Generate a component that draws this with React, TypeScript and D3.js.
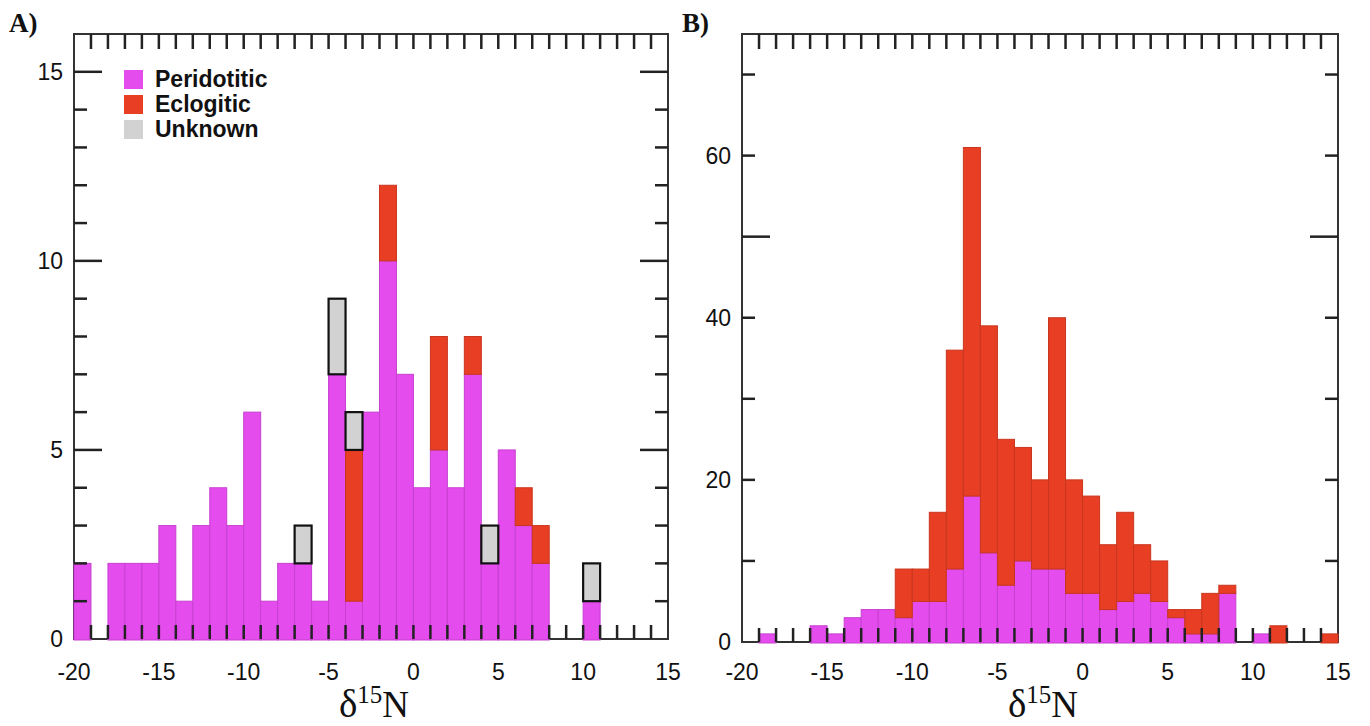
import * as d3 from 'd3'

// bin left edges, 1 permil wide
const bins = d3.range(-20, 15)

// A) counts per bin, -20 .. 14
const peridotiticA = [2, 0, 2, 2, 2, 3, 1, 3, 4, 3, 6, 1, 2, 2, 1, 7, 1, 6, 10, 7, 4, 5, 4, 7, 2, 5, 3, 2, 0, 0, 1, 0, 0, 0, 0]
const eclogiticA = [0, 0, 0, 0, 0, 0, 0, 0, 0, 0, 0, 0, 0, 0, 0, 0, 4, 0, 2, 0, 0, 3, 0, 1, 0, 0, 1, 1, 0, 0, 0, 0, 0, 0, 0]
const unknownA = [0, 0, 0, 0, 0, 0, 0, 0, 0, 0, 0, 0, 0, 1, 0, 2, 1, 0, 0, 0, 0, 0, 0, 0, 1, 0, 0, 0, 0, 0, 1, 0, 0, 0, 0]

// B) counts per bin, -20 .. 14
const peridotiticB = [0, 1, 0, 0, 2, 1, 3, 4, 4, 3, 5, 5, 9, 18, 11, 7, 10, 9, 9, 6, 6, 4, 5, 6, 5, 3, 1, 1, 6, 0, 1, 0, 0, 0, 0]
const eclogiticB = [0, 0, 0, 0, 0, 0, 0, 0, 0, 6, 4, 11, 27, 43, 28, 18, 14, 11, 31, 14, 12, 8, 11, 6, 5, 1, 3, 5, 1, 0, 0, 2, 0, 0, 1]

const xTickLabels = [-20, -15, -10, -5, 0, 5, 10, 15]
const yLabelsA = [0, 5, 10, 15]
const yLabelsB = [0, 20, 40, 60]

const legendItems = ['Peridotitic', 'Eclogitic', 'Unknown']

const MAGENTA = '#e44cee'
const RED = '#e83e24'
const GRAY = '#d2d2d2'
const INK = '#333'
const SANS = '"Liberation Sans", Arial, sans-serif'
const SERIF = '"Liberation Serif", "Times New Roman", serif'

type Layer = {
  key: string
  values: number[]
  fill: string
  stroke: string
  strokeWidth: number
}

type PanelProps = {
  left: number
  right: number
  top: number
  bottom: number
  yMax: number
  layers: Layer[]
  yLabels: number[]
  yStep: number
  longTicks: number[]
  tag: string
  tagX: number
  legend?: boolean
}

const Panel = ({ left, right, top, bottom, yMax, layers, yLabels, yStep, longTicks, tag, tagX, legend }: PanelProps) => {
  const x = d3.scaleLinear().domain([-20, 15]).range([left, right])
  const y = d3.scaleLinear().domain([0, yMax]).range([bottom, top])

  const rows = bins.map((b, i) => {
    const r: Record<string, number> = { bin: b }
    layers.forEach((l) => (r[l.key] = l.values[i]))
    return r
  })
  const stacked = d3.stack<Record<string, number>>().keys(layers.map((l) => l.key))(rows)

  const xMinor = d3.range(-19, 15)
  const yMinor = d3.range(yStep, yMax, yStep)
  const shortLen = 13
  const longLen = 28

  return (
    <g>
      <text x={tagX} y={32} fontFamily={SERIF} fontWeight="bold" fontSize={27} fill="#111">
        {tag}
      </text>
      <rect x={left} y={top} width={right - left} height={bottom - top} fill="white" stroke={INK} strokeWidth={2} />

      {stacked.map((s, li) => {
        const l = layers[li]
        return (
          <g key={l.key}>
            {s.map((d, i) =>
              d[1] > d[0] ? (
                <rect
                  key={i}
                  x={x(bins[i])}
                  y={y(d[1])}
                  width={x(bins[i] + 1) - x(bins[i])}
                  height={y(d[0]) - y(d[1]) + (d[0] === 0 ? 1 : 0)}
                  fill={l.fill}
                  stroke={l.stroke}
                  strokeWidth={l.strokeWidth}
                />
              ) : null,
            )}
          </g>
        )
      })}

      {/* ticks drawn over the bars */}
      <g stroke="#222" strokeWidth={2.5}>
        {xMinor.map((v) => (
          <line key={'t' + v} x1={x(v)} x2={x(v)} y1={top} y2={top + 15} />
        ))}
        {xMinor.map((v) => (
          <line key={'b' + v} x1={x(v)} x2={x(v)} y1={bottom} y2={bottom - 14} />
        ))}
        {yMinor.map((v) => {
          const len = longTicks.includes(v) ? longLen : shortLen
          return (
            <g key={'y' + v}>
              <line x1={left} x2={left + len} y1={y(v)} y2={y(v)} />
              <line x1={right} x2={right - len} y1={y(v)} y2={y(v)} />
            </g>
          )
        })}
      </g>

      {yLabels.map((v) => (
        <text
          key={'yl' + v}
          x={left - 11}
          y={y(v)}
          textAnchor="end"
          dominantBaseline="central"
          fontFamily={SANS}
          fontSize={23}
          fill="#111"
        >
          {v}
        </text>
      ))}
      {xTickLabels.map((v) => (
        <text
          key={'xl' + v}
          x={x(v)}
          y={672}
          textAnchor="middle"
          dominantBaseline="central"
          fontFamily={SANS}
          fontSize={23}
          fill="#111"
        >
          {v}
        </text>
      ))}

      <text x={(left + right) / 2 + 3} y={717} textAnchor="middle" fontFamily={SERIF} fill="#111">
        <tspan fontSize={39}>δ</tspan>
        <tspan fontSize={25} dy={-14}>
          15
        </tspan>
        <tspan fontSize={37} dy={14}>
          N
        </tspan>
      </text>

      {legend && (
        <g>
          {legendItems.map((name, i) => (
            <g key={name}>
              <rect x={124} y={70 + i * 25} width={19} height={19} fill={[MAGENTA, RED, GRAY][i]} />
              <text x={155} y={87 + i * 25} fontFamily={SANS} fontWeight="bold" fontSize={23} fill="#111">
                {name}
              </text>
            </g>
          ))}
        </g>
      )}
    </g>
  )
}

export default function App() {
  const layersA: Layer[] = [
    { key: 'P', values: peridotiticA, fill: MAGENTA, stroke: '#c640cf', strokeWidth: 1 },
    { key: 'E', values: eclogiticA, fill: RED, stroke: '#c9361f', strokeWidth: 1 },
    { key: 'U', values: unknownA, fill: GRAY, stroke: '#111', strokeWidth: 2.2 },
  ]
  const layersB: Layer[] = [
    { key: 'P', values: peridotiticB, fill: MAGENTA, stroke: '#c640cf', strokeWidth: 1 },
    { key: 'E', values: eclogiticB, fill: RED, stroke: '#c9361f', strokeWidth: 1 },
  ]
  return (
    <div style={{ position: 'absolute', left: 0, top: 0 }}>
      <svg width={1370} height={726} style={{ display: 'block', background: 'white' }}>
        <Panel
          left={74}
          right={668}
          top={34}
          bottom={639}
          yMax={16}
          layers={layersA}
          yLabels={yLabelsA}
          yStep={1}
          longTicks={[5, 10, 15]}
          tag="A)"
          tagX={9}
          legend
        />
        <Panel
          left={742}
          right={1338}
          top={34}
          bottom={642}
          yMax={75}
          layers={layersB}
          yLabels={yLabelsB}
          yStep={10}
          longTicks={[50]}
          tag="B)"
          tagX={682}
        />
      </svg>
    </div>
  )
}
